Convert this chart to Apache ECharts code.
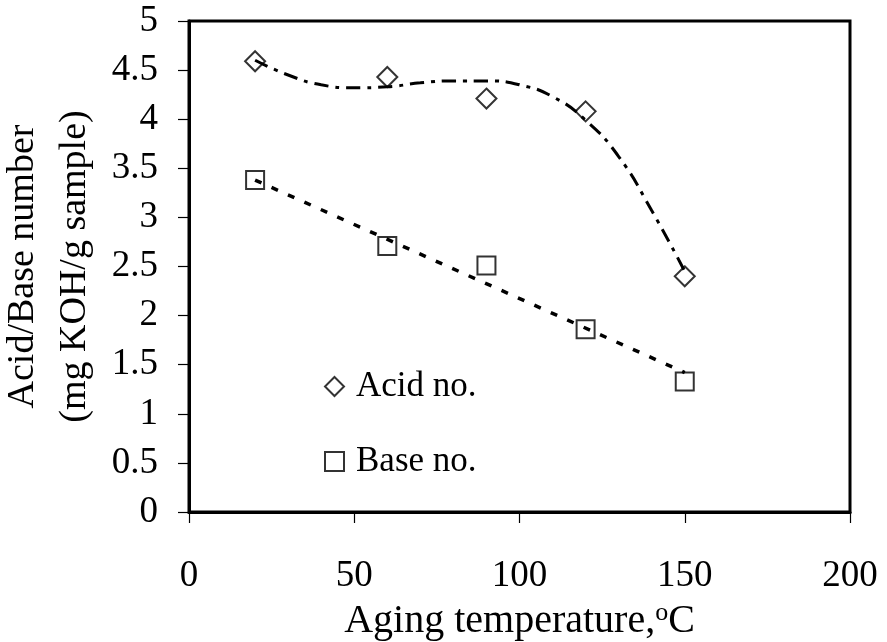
<!DOCTYPE html>
<html>
<head>
<meta charset="utf-8">
<script src="https://cdn.jsdelivr.net/npm/echarts@6/dist/echarts.min.js"></script>
<style>
  html, body { margin: 0; padding: 0; background: #fff; }
  #chart { width: 887px; height: 642px; }
</style>
</head>
<body>
<div id="chart"></div>
<script>
// measured points
const temps = [20, 60, 90, 120, 150];
const acidNo = [4.59, 4.43, 4.21, 4.08, 2.4];
const baseNo = [3.38, 2.71, 2.51, 1.86, 1.33];

// trend curves
const acidFitT = [20, 30, 40, 50, 60, 70, 80, 90, 100, 110, 120, 130, 140, 150];
const acidFitV = [4.6, 4.45, 4.35, 4.32, 4.33, 4.37, 4.39, 4.39, 4.35, 4.23, 3.99, 3.62, 3.07, 2.45];
const baseFitT = [20, 150];
const baseFitV = [3.38, 1.42];

const FONT = 'Liberation Serif';

function pairs(xs, ys) {
    return xs.map(function (x, i) { return [x, ys[i]]; });
}

const chart = echarts.init(document.getElementById('chart'));

const option = {
    backgroundColor: '#fff',
    animation: false,
    grid: {
        left: 189, right: 37, top: 21, bottom: 130,
        outerBoundsMode: 'none',
        containLabel: false,
        show: true, borderColor: '#000', borderWidth: 3, backgroundColor: 'transparent'
    },
    legend: {
        orient: 'vertical',
        left: 319, top: 364,
        itemWidth: 19, itemHeight: 19,
        itemGap: 40,
        data: [
            { name: 'Acid no.', icon: 'diamond' },
            { name: 'Base no.', icon: 'rect' }
        ],
        textStyle: { fontFamily: FONT, fontSize: 35, color: '#000', padding: [0, 0, 0, 7] }
    },
    xAxis: {
        type: 'value',
        min: 0, max: 200, interval: 50,
        name: 'Aging temperature,{sup|o}C',
        nameLocation: 'middle',
        nameGap: 83,
        nameTextStyle: {
            fontFamily: FONT, fontSize: 40, color: '#000',
            rich: { sup: { fontFamily: FONT, fontSize: 26, color: '#000', padding: [0, 0, 18, 0] } }
        },
        axisLine: { lineStyle: { color: '#000', width: 3 } },
        axisTick: { show: true, inside: false, length: 11, lineStyle: { color: '#000', width: 1.2 } },
        axisLabel: { margin: 46, fontFamily: FONT, fontSize: 37, color: '#000' },
        splitLine: { show: false }
    },
    yAxis: {
        type: 'value',
        min: 0, max: 5, interval: 0.5,
        name: 'Acid/Base number\n(mg KOH/g sample)',
        nameLocation: 'middle',
        nameRotate: 90,
        nameGap: 63,
        nameTextStyle: { fontFamily: FONT, fontSize: 38, color: '#000', lineHeight: 52 },
        axisLine: { lineStyle: { color: '#000', width: 3 } },
        axisTick: { show: true, inside: false, length: 11, lineStyle: { color: '#000', width: 1.2 } },
        axisLabel: { margin: 31, fontFamily: FONT, fontSize: 37, color: '#000' },
        splitLine: { show: false }
    },
    series: [
        {
            name: 'acidFit',
            type: 'line',
            data: pairs(acidFitT, acidFitV),
            smooth: 0.5,
            showSymbol: false,
            symbol: 'none',
            lineStyle: { color: '#000', width: 3, type: [14, 7, 4, 7] },
            z: 2
        },
        {
            name: 'baseFit',
            type: 'line',
            data: pairs(baseFitT, baseFitV),
            showSymbol: false,
            symbol: 'none',
            lineStyle: { color: '#000', width: 3.5, type: [7, 11] },
            z: 2
        },
        {
            name: 'Acid no.',
            type: 'scatter',
            data: pairs(temps, acidNo),
            symbol: 'diamond',
            symbolSize: 20,
            itemStyle: { color: 'rgba(255,255,255,0)', borderColor: '#000', borderWidth: 2 },
            z: 3
        },
        {
            name: 'Base no.',
            type: 'scatter',
            data: pairs(temps, baseNo),
            symbol: 'rect',
            symbolSize: 18,
            itemStyle: { color: 'rgba(255,255,255,0)', borderColor: '#000', borderWidth: 2 },
            z: 3
        }
    ]
};

chart.setOption(option);
</script>
</body>
</html>
